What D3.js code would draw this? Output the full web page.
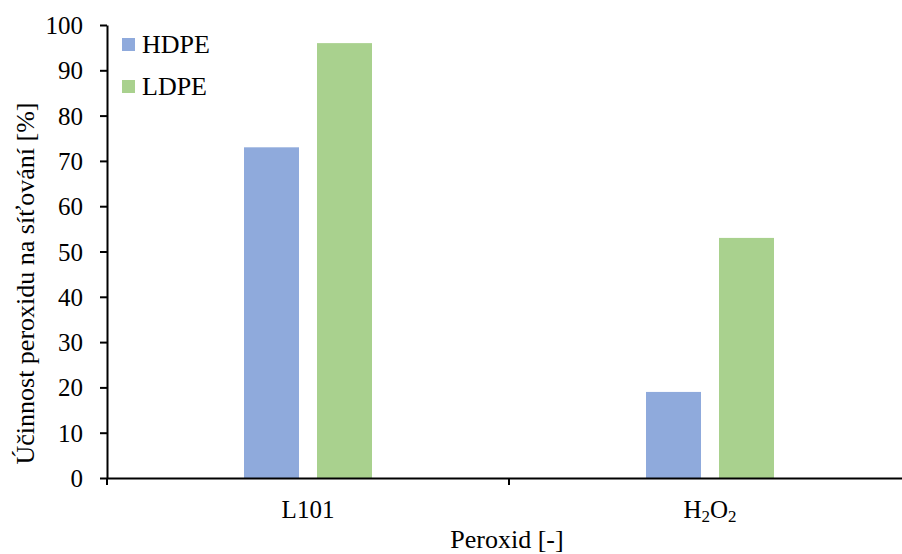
<!DOCTYPE html>
<html>
<head>
<meta charset="utf-8">
<script src="https://cdn.jsdelivr.net/npm/d3@7/dist/d3.min.js"></script>
<style>
  html, body { margin: 0; padding: 0; background: #fff; }
  svg { display: block; }
  text { font-family: "Liberation Serif", "Times New Roman", serif; fill: #000; }
</style>
</head>
<body>
<div id="chart"></div>
<script>
const categories = ["L101", "H2O2"];
const seriesNames = ["HDPE", "LDPE"];
const hdpeValues = [73, 19];
const ldpeValues = [96, 53];
const yTicks = [0, 10, 20, 30, 40, 50, 60, 70, 80, 90, 100];
const colors = ["#8FAADC", "#A9D18E"];
const yTitle = "Účinnost peroxidu na síťování [%]";
const xTitle = "Peroxid [-]";

(function () {
const W = 902, H = 554;
const mLeft = 107, mBottom = 478, mTop = 25, mRight = 911;

const svg = d3.select("#chart").append("svg")
  .attr("width", W).attr("height", H);

const x0 = d3.scaleBand().domain(categories).range([mLeft, mRight]).padding(0);
const x1 = d3.scaleBand().domain(seriesNames).range([0, x0.bandwidth()])
  .paddingInner(18 / 73).paddingOuter(1.877);
const y = d3.scaleLinear().domain([0, 100]).range([mBottom, mTop]);

const data = categories.map((c, i) => ({ cat: c, vals: [hdpeValues[i], ldpeValues[i]] }));

// bars
const g = svg.append("g");
data.forEach(d => {
  seriesNames.forEach((s, j) => {
    g.append("rect")
      .attr("x", x0(d.cat) + x1(s))
      .attr("y", y(d.vals[j]))
      .attr("width", x1.bandwidth())
      .attr("height", y(0) - y(d.vals[j]))
      .attr("fill", colors[j]);
  });
});

// y axis
const yAxis = svg.append("g")
  .attr("transform", `translate(${mLeft},0)`)
  .call(d3.axisLeft(y).tickValues(yTicks).tickSize(7).tickSizeOuter(0).tickPadding(17));
yAxis.attr("font-family", "Liberation Serif");
yAxis.select(".domain").attr("stroke", "#000").attr("stroke-width", 2);
yAxis.selectAll(".tick line").attr("stroke", "#000").attr("stroke-width", 2);
yAxis.selectAll(".tick text").attr("font-size", 25).attr("dy", "0.34em");

// x axis
const xAxis = svg.append("g")
  .attr("transform", `translate(0,${mBottom})`)
  .call(d3.axisBottom(x0).tickSize(0).tickSizeOuter(0).tickFormat(""));
xAxis.select(".domain").attr("stroke", "#000").attr("stroke-width", 2);
const bounds = [mLeft].concat(categories.map(c => x0(c) + x0.bandwidth()));
svg.append("g").selectAll("line").data(bounds).join("line")
  .attr("x1", d => d).attr("x2", d => d)
  .attr("y1", mBottom).attr("y2", mBottom + 7)
  .attr("stroke", "#000").attr("stroke-width", 2);

// category labels with subscripts
categories.forEach(c => {
  const t = svg.append("text")
    .attr("x", x0(c) + x0.bandwidth() / 2)
    .attr("y", 518)
    .attr("text-anchor", "middle")
    .attr("font-size", 25);
  if (c === "H2O2") {
    const parts = c.match(/[A-Za-z]+|\d+/g);
    let sub = false;
    parts.forEach(p => {
      const isNum = /\d/.test(p);
      const ts = t.append("tspan").text(p);
      if (isNum) { ts.attr("font-size", 17).attr("dy", sub ? 0 : 4); sub = true; }
      else { ts.attr("dy", sub ? -4 : 0); sub = false; }
    });
  } else {
    t.text(c);
  }
});

// axis titles
svg.append("text")
  .attr("transform", `translate(34,${(mBottom + mTop) / 2 + 32}) rotate(-90)`)
  .attr("text-anchor", "middle")
  .attr("font-size", 26)
  .text(yTitle);

svg.append("text")
  .attr("x", (mLeft + mRight) / 2 - 2)
  .attr("y", 548)
  .attr("text-anchor", "middle")
  .attr("font-size", 26)
  .text(xTitle);

// legend
const legend = svg.append("g");
seriesNames.forEach((s, i) => {
  legend.append("rect")
    .attr("x", 122).attr("y", 38 + i * 42)
    .attr("width", 13).attr("height", 13)
    .attr("fill", colors[i]);
  legend.append("text")
    .attr("x", 142).attr("y", 53 + i * 42)
    .attr("font-size", 26)
    .text(s);
});
})();
</script>
</body>
</html>
